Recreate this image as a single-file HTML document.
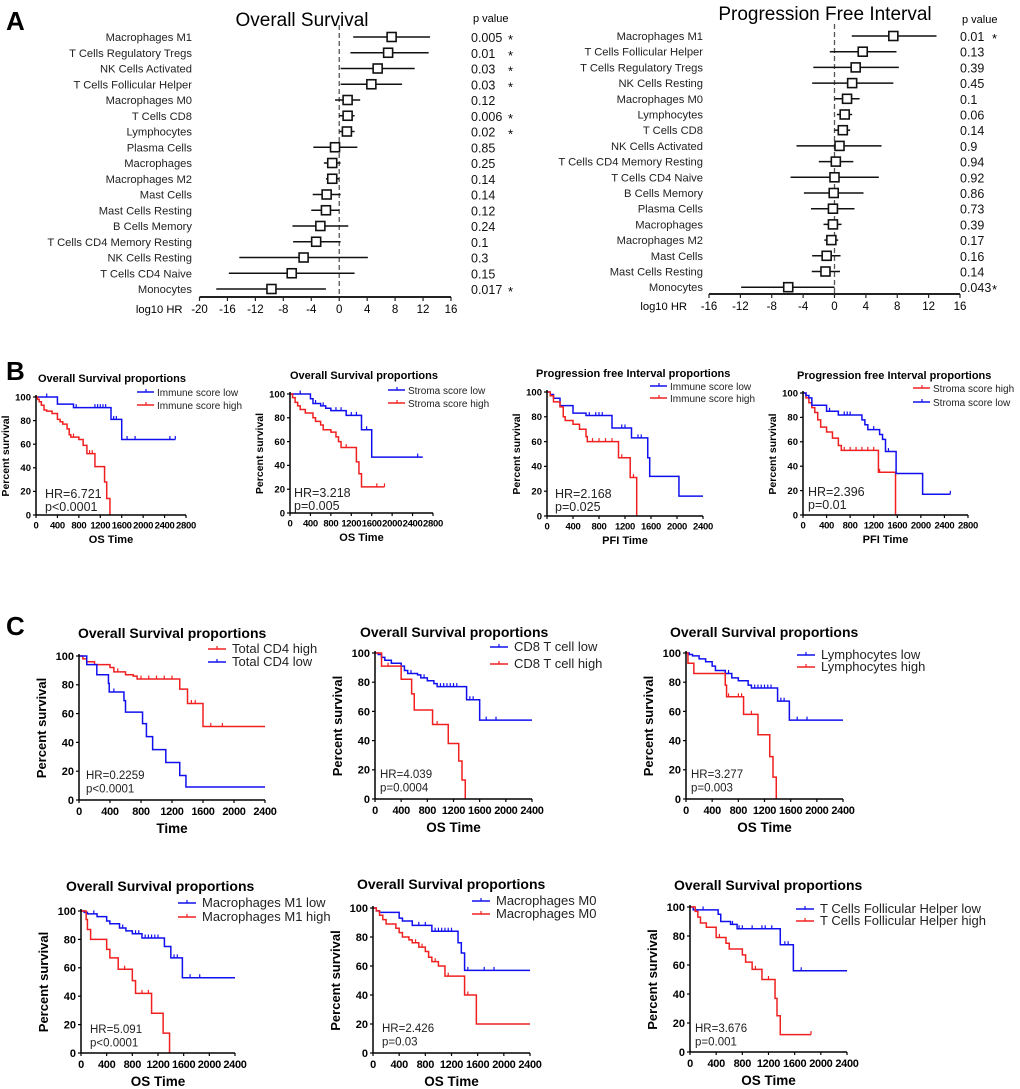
<!DOCTYPE html>
<html><head><meta charset="utf-8"><style>
body{margin:0;background:#fff}
svg{display:block;font-family:"Liberation Sans",Arial,sans-serif}
</style></head><body>
<svg id="fig" width="1020" height="1089" viewBox="0 0 1020 1089" xmlns="http://www.w3.org/2000/svg">
<text x="6" y="30" font-size="26" font-weight="bold">A</text>
<text x="6" y="380" font-size="26" font-weight="bold">B</text>
<text x="6" y="635" font-size="26" font-weight="bold">C</text>
</svg>
<script>
const NS="http://www.w3.org/2000/svg";
const svg=document.getElementById('fig');
function mk(tag,attrs,parent,txt){const e=document.createElementNS(NS,tag);for(const k in attrs)e.setAttribute(k,attrs[k]);if(txt!==undefined)e.textContent=txt;(parent||svg).appendChild(e);return e;}

// ---------- Forest data ----------
const osCats=["Macrophages M1","T Cells Regulatory Tregs","NK Cells Activated","T Cells Follicular Helper","Macrophages M0","T Cells CD8","Lymphocytes","Plasma Cells","Macrophages","Macrophages M2","Mast Cells","Mast Cells Resting","B Cells Memory","T Cells CD4 Memory Resting","NK Cells Resting","T Cells CD4 Naive","Monocytes"];
const osHR=[7.5,7,5.5,4.6,1.2,1.2,1.1,-0.6,-1,-1,-1.8,-1.9,-2.7,-3.3,-5.1,-6.8,-9.7];
const osLo=[2,1.6,0.2,0.2,-0.6,0,0,-3.7,-2.2,-1.9,-3.8,-4,-6.7,-6.6,-14.3,-15.8,-17.6];
const osHi=[13,12.8,10.8,9,3,2.2,2.2,2.6,0.2,0,0.2,0,1.3,0.2,4.1,2.2,-1.9];
const osP=["0.005","0.01","0.03","0.03","0.12","0.006","0.02","0.85","0.25","0.14","0.14","0.12","0.24","0.1","0.3","0.15","0.017"];
const osStar=[1,1,1,1,0,1,1,0,0,0,0,0,0,0,0,0,1];
const osTicks=[-20,-16,-12,-8,-4,0,4,8,12,16];

const pfiCats=["Macrophages M1","T Cells Follicular Helper","T Cells Regulatory Tregs","NK Cells Resting","Macrophages M0","Lymphocytes","T Cells CD8","NK Cells Activated","T Cells CD4 Memory Resting","T Cells CD4 Naive","B Cells Memory","Plasma Cells","Macrophages","Macrophages M2","Mast Cells","Mast Cells Resting","Monocytes"];
const pfiHR=[7.5,3.6,2.7,2.25,1.6,1.3,1.06,0.64,0.17,0,-0.1,-0.2,-0.2,-0.4,-1,-1.15,-5.9];
const pfiLo=[2.2,-0.6,-2.7,-2.85,0,0.3,0,-4.85,-2,-5.6,-3.9,-3,-1.4,-1.3,-2.85,-2.9,-11.9];
const pfiHi=[13,7.9,8.2,7.5,3.2,2.25,2,6,2.4,5.65,3.7,2.55,0.9,0.47,0.77,0.7,0];
const pfiP=["0.01","0.13","0.39","0.45","0.1","0.06","0.14","0.9","0.94","0.92","0.86","0.73","0.39","0.17","0.16","0.14","0.043"];
const pfiStar=[1,0,0,0,0,0,0,0,0,0,0,0,0,0,0,0,1];
const pfiTicks=[-16,-12,-8,-4,0,4,8,12,16];

function forest(cfg,cats,hr,lo,hi,pv,star,ticks){
  const g=mk('g',{});
  
  
  const X=v=>cfg.ax0+(v-cfg.vmin)/(cfg.vmax-cfg.vmin)*(cfg.ax1-cfg.ax0);
  const Y=i=>cfg.row0+i*cfg.step;
  const t=mk('text',{x:cfg.tx,y:cfg.ty,'font-size':19,'text-anchor':'middle'},g,cfg.title);
  
  
  const ph=mk('text',{x:cfg.px+2,y:cfg.pvy,'font-size':11},g,'p value');
  
  
  mk('line',{x1:X(0),x2:X(0),y1:Y(0)-12,y2:cfg.axy,stroke:'#555','stroke-width':1.3,'stroke-dasharray':'5,3'},g);
  cats.forEach((c,i)=>{
    const y=Y(i);
    const l=mk('text',{x:cfg.lx,y:y+4,'font-size':11.2,'text-anchor':'end',fill:'#222'},g,c);
    
    
    const ci=mk('line',{x1:X(lo[i]),x2:X(hi[i]),y1:y,y2:y,stroke:'#111','stroke-width':1.5},g);
    
    
    const b=mk('rect',{x:X(hr[i])-4.5,y:y-4.5,width:9,height:9,fill:'#fff',stroke:'#111','stroke-width':1.6},g);
    
    
    const p=mk('text',{x:cfg.px,y:y+5,'font-size':12.5,fill:'#111'},g,pv[i]);
    
    
    if(star[i]){const s=mk('text',{x:cfg.sx,y:y+7,'font-size':13},g,'*');
      
      }
  });
  mk('line',{x1:cfg.ax0,x2:cfg.ax1,y1:cfg.axy,y2:cfg.axy,stroke:'#222','stroke-width':2},g);
  ticks.forEach(v=>{
    mk('line',{x1:X(v),x2:X(v),y1:cfg.axy,y2:cfg.axy+4,stroke:'#222','stroke-width':1.2},g);
    const tl=mk('text',{x:X(v),y:cfg.axy+16,'font-size':11.5,'text-anchor':'middle'},g,String(v));
    
    
  });
  const al=mk('text',{x:cfg.ax0-cfg.alOff,y:cfg.axy+16,'font-size':11.2,'text-anchor':'end'},g,'log10 HR');
  
  
}
forest({name:'forest-overall-survival',title:'Overall Survival',tx:302,ty:26,ax0:199.5,ax1:451,vmin:-20,vmax:16,row0:37,step:15.75,axy:297,lx:192,px:471,sx:508,pvy:22,alOff:17},osCats,osHR,osLo,osHi,osP,osStar,osTicks);
forest({name:'forest-progression-free-interval',title:'Progression Free Interval',tx:825,ty:20,ax0:709,ax1:960,vmin:-16,vmax:16,row0:36,step:15.7,axy:294,lx:703,px:960,sx:992,pvy:23,alOff:22},pfiCats,pfiHR,pfiLo,pfiHi,pfiP,pfiStar,pfiTicks);

// ---------- KM data (time, survival %) ----------
const b1LowT=[0,400,700,1400,1600], b1LowS=[100,94,91,81,64], b1LowEnd=2600, b1LowC=[200,750,1100,1150,1200,1250,1300,1450,1500,1700,1850,2500,2600];
const b1HighT=[0,30,60,100,150,200,300,400,450,500,580,620,650,800,880,950,1100,1280,1320,1380], b1HighS=[100,98,96,93,89,88,86,81,79,77,73,68,66,64,59,52,41,28,14,0], b1HighEnd=1380, b1HighC=[700,1000,1050];
const b2LowT=[0,400,450,600,700,800,1100,1400,1600], b2LowS=[100,96,92,90,88,86,82,70,47], b2LowEnd=2600, b2LowC=[200,500,650,900,1000,1200,1300,1500,2500];
const b2HighT=[0,50,100,150,200,300,450,500,600,650,800,900,950,1000,1300,1350,1400], b2HighS=[100,97,93,90,87,84,80,77,74,70,68,64,60,55,43,33,22], b2HighEnd=1850, b2HighC=[1100,1700,1850];
const b3LowT=[0,50,100,200,400,600,1000,1300,1550,1580,2030], b3LowS=[100,98,95,89,83,81,71,63,47,32,16], b3LowEnd=2400, b3LowC=[650,750,800,850,1150,1200,1400,1450];
const b3HighT=[0,50,100,200,250,280,400,500,600,620,1100,1280,1380], b3HighS=[100,97,92,88,80,77,74,70,64,60,47,31,0], b3HighEnd=1380, b3HighC=[700,800,900,1000,1150,1330];
const b4HighT=[0,50,100,150,200,250,300,400,500,600,650,1280,1570], b4HighS=[100,96,92,88,84,78,72,68,63,57,53,35,0], b4HighEnd=1570, b4HighC=[700,800,900,1000,1100,1200,1300];
const b4LowT=[0,50,100,150,400,600,1000,1050,1100,1300,1350,1400,1580,2030], b4LowS=[100,98,96,90,85,82,78,74,70,66,62,52,34,17], b4LowEnd=2500, b4LowC=[450,700,750,800,1200,1450,2500];
const c1HighT=[0,50,100,200,400,450,600,700,750,1300,1400,1600], c1HighS=[100,98,96,94,92,89,87,86,84,77,67,51], c1HighEnd=2400, c1HighC=[500,800,900,1000,1100,1200,1450,1500,1700,1850];
const c1LowT=[0,100,230,380,390,580,600,820,870,950,1120,1300,1380], c1LowS=[100,94,87,81,75,69,61,53,44,35,26,17,9], c1LowEnd=2400, c1LowC=[450];
const c2LowT=[0,50,100,150,250,400,450,500,650,700,800,900,950,1400,1600], c2LowS=[100,99,97,95,93,91,88,86,85,83,81,79,77,68,54], c2LowEnd=2400, c2LowC=[550,750,1000,1050,1100,1150,1200,1250,1450,1500,1700,1850];
const c2HighT=[0,100,400,560,600,880,1120,1280,1330,1380], c2HighS=[100,91,82,72,61,51,38,26,13,0], c2HighEnd=1380, c2HighC=[200,950];
const c3LowT=[0,50,100,200,300,400,450,600,700,800,950,1000,1400,1580], c3LowS=[100,99,98,96,94,91,88,86,83,81,78,76,67,54], c3LowEnd=2400, c3LowC=[650,1050,1100,1150,1200,1250,1300,1450,1500,1700,1850];
const c3HighT=[0,30,120,600,620,880,1100,1280,1330,1380], c3HighS=[100,93,86,78,70,58,44,29,15,0], c3HighEnd=1380, c3HighC=[650,800,850,1000];
const c4LowT=[0,50,100,250,400,450,600,700,800,950,1300,1400,1580], c4LowS=[100,99,98,96,93,91,88,86,84,81,75,67,53], c4LowEnd=2400, c4LowC=[200,650,850,900,1000,1050,1100,1150,1200,1450,1500,1700,1850];
const c4HighT=[0,80,100,150,400,450,580,800,850,1100,1280,1380], c4HighS=[100,94,87,80,73,67,59,51,42,28,14,0], c4HighEnd=1380, c4HighC=[680,950,1050];
const c5LowT=[0,50,100,400,450,600,900,1300,1350,1400], c5LowS=[100,98,97,93,91,88,84,76,69,57], c5LowEnd=2400, c5LowC=[700,800,950,1000,1050,1100,1150,1200,1450,1700,1850];
const c5HighT=[0,50,100,150,200,350,400,450,550,600,700,800,850,900,1000,1100,1400,1580], c5HighS=[100,98,95,92,89,86,83,80,78,76,73,70,66,63,60,53,40,20], c5HighEnd=2400, c5HighC=[650,750,950,1150,1450];
const c6LowT=[0,50,430,470,620,720,1380,1580], c6LowS=[100,98,95,90,88,85,74,56], c6LowEnd=2400, c6LowC=[200,650,750,800,950,1100,1150,1250,1450,1500,1700];
const c6HighT=[0,80,120,160,250,400,550,600,800,850,950,1100,1300,1330,1380], c6HighS=[100,97,93,89,86,79,75,71,67,62,57,50,37,25,12], c6HighEnd=1850, c6HighC=[450,1000,1200,1850];

const RED='#f02020', BLUE='#1010ee';
function km(cfg,curves){
  const g=mk('g',{});
  
  
  const X=t=>cfg.x0+t/cfg.xmax*(cfg.x1-cfg.x0);
  const Y=s=>cfg.y1-s/100*(cfg.y1-cfg.y0);
  const big=cfg.big;
  const tt=mk('text',{x:cfg.tx,y:cfg.ty,'font-size':big?14:11,'font-weight':'bold'},g,cfg.title);
  
  
  curves.forEach(cv=>{
    let d='M'+X(cv.t[0])+','+Y(cv.s[0]);
    for(let i=1;i<cv.t.length;i++){d+=' H'+X(cv.t[i])+' V'+Y(cv.s[i]);}
    d+=' H'+X(cv.end);
    const p=mk('path',{d:d,fill:'none',stroke:cv.col,'stroke-width':1.5},g);
    
    
    cv.c.forEach(ct=>{
      let s=cv.s[0];for(let i=0;i<cv.t.length;i++){if(cv.t[i]<=ct)s=cv.s[i];}
      const m=mk('line',{x1:X(ct),x2:X(ct),y1:Y(s),y2:Y(s)-3.5,stroke:cv.col,'stroke-width':1.2},g);
      
      
    });
  });
  mk('line',{x1:cfg.x0,x2:cfg.x0,y1:cfg.y0-2,y2:cfg.y1,stroke:'#000','stroke-width':1.5},g);
  mk('line',{x1:cfg.x0,x2:cfg.x1,y1:cfg.y1,y2:cfg.y1,stroke:'#000','stroke-width':1.5},g);
  const fs=big?11:9.5;
  for(let v=0;v<=100;v+=20){
    mk('line',{x1:cfg.x0-3,x2:cfg.x0,y1:Y(v),y2:Y(v),stroke:'#000','stroke-width':1.2},g);
    const l=mk('text',{x:cfg.x0-5,y:Y(v)+fs*0.35,'font-size':fs,'font-weight':'bold','text-anchor':'end'},g,String(v));
    
    
  }
  for(let v=0;v<=cfg.xmax;v+=400){
    mk('line',{x1:X(v),x2:X(v),y1:cfg.y1,y2:cfg.y1+3,stroke:'#000','stroke-width':1.2},g);
    const l=mk('text',{x:X(v),y:cfg.y1+fs+4,'font-size':fs,'font-weight':'bold','text-anchor':'middle','letter-spacing':'-0.3'},g,String(v));
    
    
  }
  const xl=mk('text',{x:(cfg.x0+cfg.x1)/2,y:cfg.y1+(big?33:28),'font-size':big?13.5:11,'font-weight':'bold','text-anchor':'middle'},g,cfg.xlabel);
  
  
  const yc=(cfg.y0+cfg.y1)/2, yx=cfg.x0-(big?33:27);
  const yl=mk('text',{x:yx,y:yc,'font-size':big?13:10.5,'font-weight':'bold','text-anchor':'middle',transform:'rotate(-90 '+yx+' '+yc+')'},g,'Percent survival');
  
  
  curves.forEach((cv,i)=>{
    const ly=cfg.ly[i];
    mk('line',{x1:cfg.lx,x2:cfg.lx+(big?18:17),y1:ly,y2:ly,stroke:cv.col,'stroke-width':1.6},g);
    mk('line',{x1:cfg.lx+9,x2:cfg.lx+9,y1:ly,y2:ly-3,stroke:cv.col,'stroke-width':1.2},g);
    const lt=mk('text',{x:cfg.lx+(big?24:20),y:ly+4,'font-size':big?13:10,fill:'#222'},g,cv.label);
    
    
  });
  const hs=big?11.5:12.5;
  const h1=mk('text',{x:cfg.hx,y:cfg.hy,'font-size':hs,fill:'#222'},g,cfg.hr);
  
  
  const h2=mk('text',{x:cfg.hx,y:cfg.hy+(big?13.5:13),'font-size':hs,fill:'#222'},g,cfg.p);
  
  
}

km({name:'km-os-immune',title:'Overall Survival proportions',tx:38,ty:382,x0:36,x1:186,y0:397,y1:515,xmax:2800,xlabel:'OS Time',lx:137,ly:[392,405],hx:45,hy:498,hr:'HR=6.721',p:'p<0.0001'},
 [{t:b1LowT,s:b1LowS,end:b1LowEnd,c:b1LowC,col:BLUE,label:'Immune score low'},{t:b1HighT,s:b1HighS,end:b1HighEnd,c:b1HighC,col:RED,label:'Immune score high'}]);
km({name:'km-os-stroma',title:'Overall Survival proportions',tx:290,ty:379,x0:290,x1:433,y0:394,y1:513,xmax:2800,xlabel:'OS Time',lx:388,ly:[390,403],hx:294,hy:497,hr:'HR=3.218',p:'p=0.005'},
 [{t:b2LowT,s:b2LowS,end:b2LowEnd,c:b2LowC,col:BLUE,label:'Stroma score low'},{t:b2HighT,s:b2HighS,end:b2HighEnd,c:b2HighC,col:RED,label:'Stroma score high'}]);
km({name:'km-pfi-immune',title:'Progression free Interval proportions',tx:536,ty:377,x0:547,x1:703,y0:392,y1:516,xmax:2400,xlabel:'PFI Time',lx:650,ly:[386,398],hx:555,hy:498,hr:'HR=2.168',p:'p=0.025'},
 [{t:b3LowT,s:b3LowS,end:b3LowEnd,c:b3LowC,col:BLUE,label:'Immune score low'},{t:b3HighT,s:b3HighS,end:b3HighEnd,c:b3HighC,col:RED,label:'Immune score high'}]);
km({name:'km-pfi-stroma',title:'Progression free Interval proportions',tx:797,ty:379,x0:803,x1:968,y0:393,y1:515,xmax:2800,xlabel:'PFI Time',lx:913,ly:[388,402],hx:808,hy:496,hr:'HR=2.396',p:'p=0.01'},
 [{t:b4HighT,s:b4HighS,end:b4HighEnd,c:b4HighC,col:RED,label:'Stroma score high'},{t:b4LowT,s:b4LowS,end:b4LowEnd,c:b4LowC,col:BLUE,label:'Stroma score low'}]);

km({big:1,name:'km-os-cd4',title:'Overall Survival proportions',tx:78,ty:638,x0:79,x1:265,y0:656,y1:800,xmax:2400,xlabel:'Time',lx:208,ly:[649,662],hx:86,hy:779,hr:'HR=0.2259',p:'p<0.0001'},
 [{t:c1HighT,s:c1HighS,end:c1HighEnd,c:c1HighC,col:RED,label:'Total CD4 high'},{t:c1LowT,s:c1LowS,end:c1LowEnd,c:c1LowC,col:BLUE,label:'Total CD4 low'}]);
km({big:1,name:'km-os-cd8',title:'Overall Survival proportions',tx:360,ty:637,x0:375,x1:532,y0:653,y1:799,xmax:2400,xlabel:'OS Time',lx:490,ly:[647,664],hx:380,hy:778,hr:'HR=4.039',p:'p=0.0004'},
 [{t:c2LowT,s:c2LowS,end:c2LowEnd,c:c2LowC,col:BLUE,label:'CD8 T cell low'},{t:c2HighT,s:c2HighS,end:c2HighEnd,c:c2HighC,col:RED,label:'CD8 T cell high'}]);
km({big:1,name:'km-os-lymphocytes',title:'Overall Survival proportions',tx:670,ty:637,x0:686,x1:843,y0:653,y1:799,xmax:2400,xlabel:'OS Time',lx:797,ly:[655,667],hx:691,hy:778,hr:'HR=3.277',p:'p=0.003'},
 [{t:c3LowT,s:c3LowS,end:c3LowEnd,c:c3LowC,col:BLUE,label:'Lymphocytes low'},{t:c3HighT,s:c3HighS,end:c3HighEnd,c:c3HighC,col:RED,label:'Lymphocytes high'}]);
km({big:1,name:'km-os-macrophages-m1',title:'Overall Survival proportions',tx:66,ty:891,x0:81,x1:235,y0:911,y1:1053,xmax:2400,xlabel:'OS Time',lx:178,ly:[903,917],hx:90,hy:1033,hr:'HR=5.091',p:'p<0.0001'},
 [{t:c4LowT,s:c4LowS,end:c4LowEnd,c:c4LowC,col:BLUE,label:'Macrophages M1 low'},{t:c4HighT,s:c4HighS,end:c4HighEnd,c:c4HighC,col:RED,label:'Macrophages M1 high'}]);
km({big:1,name:'km-os-macrophages-m0',title:'Overall Survival proportions',tx:357,ty:889,x0:373,x1:530,y0:908,y1:1053,xmax:2400,xlabel:'OS Time',lx:472,ly:[901,914],hx:382,hy:1032,hr:'HR=2.426',p:'p=0.03'},
 [{t:c5LowT,s:c5LowS,end:c5LowEnd,c:c5LowC,col:BLUE,label:'Macrophages M0'},{t:c5HighT,s:c5HighS,end:c5HighEnd,c:c5HighC,col:RED,label:'Macrophages M0'}]);
km({big:1,name:'km-os-tfh',title:'Overall Survival proportions',tx:674,ty:890,x0:690,x1:847,y0:907,y1:1052,xmax:2400,xlabel:'OS Time',lx:796,ly:[909,921],hx:695,hy:1032,hr:'HR=3.676',p:'p=0.001'},
 [{t:c6LowT,s:c6LowS,end:c6LowEnd,c:c6LowC,col:BLUE,label:'T Cells Follicular Helper low'},{t:c6HighT,s:c6HighS,end:c6HighEnd,c:c6HighC,col:RED,label:'T Cells Follicular Helper high'}]);
</script>
</body></html>
